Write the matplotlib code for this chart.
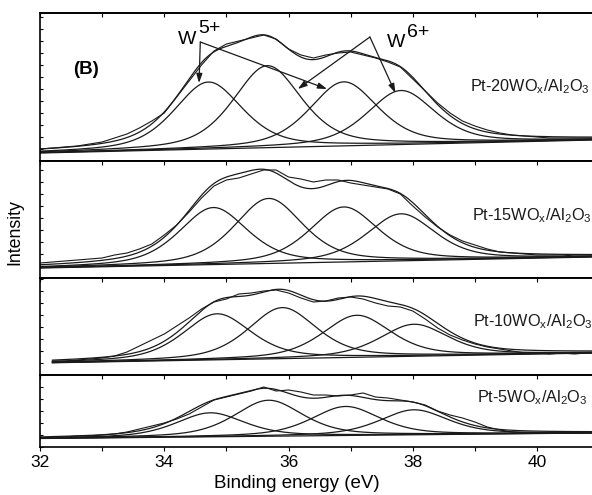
import numpy as np
import matplotlib.pyplot as plt
from matplotlib.ticker import MultipleLocator

plt.rcParams['font.family'] = ['Liberation Sans', 'DejaVu Sans']
plt.rcParams['mathtext.fontset'] = 'custom'
plt.rcParams['mathtext.rm'] = 'Liberation Sans'
plt.rcParams['mathtext.it'] = 'Liberation Sans:italic'
plt.rcParams['mathtext.bf'] = 'Liberation Sans:bold'

# W 4f region, top to bottom
labels = [r'Pt-20WO$_\mathregular{x}$/Al$_\mathregular{2}$O$_\mathregular{3}$',
          r'Pt-15WO$_\mathregular{x}$/Al$_\mathregular{2}$O$_\mathregular{3}$',
          r'Pt-10WO$_\mathregular{x}$/Al$_\mathregular{2}$O$_\mathregular{3}$',
          r'Pt-5WO$_\mathregular{x}$/Al$_\mathregular{2}$O$_\mathregular{3}$']

energy = np.round(np.arange(32.0, 41.01, 0.2), 1)

# measured intensity (a.u.)
counts_20 = [12, 13, 14, 15, 17, 19, 23, 27, 33, 40, 48, 64, 80, 96, 110,
             117, 120, 123, 126, 122, 112, 106, 103, 106, 108, 109, 106, 103, 99, 94,
             82, 70, 58, 48, 40, 35, 31, 28, 26, 25, 24, 23, 23, 23, 23, 23]
counts_15 = [15, 16, 17, 18, 19, 20, 23, 25, 29, 34, 43, 53, 66, 80, 92,
             98, 100, 104, 108, 108, 101, 99, 96, 98, 98, 95, 93, 91, 89, 84,
             72, 61, 51, 43, 37, 33, 29, 26, 25, 24, 23, 23, 23, 22, 22, 22]
# 10 wt% scan starts at 32.2 eV
counts_10 = [14, 14, 15, 16, 17, 19, 23, 29, 35, 41, 49, 57, 66, 73,
             76, 81, 82, 84, 85, 82, 77, 73, 74, 77, 78, 76, 72, 69, 68,
             64, 56, 47, 40, 35, 31, 28, 26, 24, 22, 22, 21, 22, 21, 22, 22]
counts_5 = [9, 9, 10, 11, 11, 12, 13, 15, 18, 21, 24, 28, 33, 40, 47,
            50, 53, 56, 60, 56, 57, 55, 52, 52, 51, 52, 54, 50, 49, 47,
            45, 42, 36, 32, 29, 25, 20, 17, 15, 14, 14, 14, 14, 14, 14, 14]

# fitted peaks: W5+ 4f7/2, W6+ 4f7/2, W5+ 4f5/2, W6+ 4f5/2
centres_20 = [34.71, 35.66, 36.89, 37.81]
heights_20 = [67, 82, 64, 54]
centres_15 = [34.79, 35.68, 36.89, 37.81]
heights_15 = [57, 65, 55, 47]
centres_10 = [34.85, 35.90, 37.10, 38.02]
heights_10 = [46, 51, 42, 32]
centres_5 = [34.74, 35.68, 36.92, 38.02]
heights_5 = [24, 36, 29, 25]

# linear background, values at 32.0 and 40.9 eV
bg_energy = [32.0, 40.9]
bg_20 = [8, 21]
bg_15 = [10, 21]
bg_10 = [12, 22]
bg_5 = [8.5, 14]

panel_top = [148, 117, 97, 72]


def gl_peak(e, centre, height, fwhm=1.3, mix=0.5):
    # Gaussian-Lorentzian sum
    g = np.exp(-4 * np.log(2) * (e - centre) ** 2 / fwhm ** 2)
    l = 1 / (1 + 4 * (e - centre) ** 2 / fwhm ** 2)
    return height * ((1 - mix) * g + mix * l)


ink = '#1a1a1a'
fig = plt.figure(figsize=(5.92, 4.95), dpi=100)
edges = [13, 161, 278, 375, 447]  # pixel rows of panel borders
left = 40 / 592
width = 1.01 - left

spectra = [(energy, counts_20, centres_20, heights_20, bg_20),
           (energy, counts_15, centres_15, heights_15, bg_15),
           (energy[1:], counts_10, centres_10, heights_10, bg_10),
           (energy, counts_5, centres_5, heights_5, bg_5)]

axes = []
for i, (e, y, centres, heights, bg) in enumerate(spectra):
    top = 1 - edges[i] / 495
    bottom = 1 - edges[i + 1] / 495
    ax = fig.add_axes([left, bottom, width, top - bottom])
    axes.append(ax)

    fine = np.linspace(e[0], e[-1], 600)
    base = np.interp(fine, bg_energy, bg)
    total = base.copy()
    ax.plot(fine, base, color=ink, lw=0.9)
    for c, h in zip(centres, heights):
        comp = gl_peak(fine, c, h)
        ax.plot(fine, base + comp, color=ink, lw=0.9)
        total += comp
    ax.plot(fine, total, color=ink, lw=0.9)
    ax.plot(e, y, color=ink, lw=0.8)

    ax.set_xlim(32, 40.98)
    ax.set_ylim(0, panel_top[i])
    ax.xaxis.set_major_locator(MultipleLocator(2))
    ax.xaxis.set_minor_locator(MultipleLocator(1))
    ax.yaxis.set_major_locator(MultipleLocator(12))
    ax.tick_params(axis='y', which='both', direction='in', length=2.5,
                   left=True, right=False, labelleft=False, width=0.8)
    ax.tick_params(axis='x', which='both', direction='out', length=3,
                   top=False, bottom=(i == 3), labelbottom=(i == 3),
                   labelsize=12.5, pad=3, width=0.8)
    sec = ax.secondary_xaxis('top')
    sec.xaxis.set_major_locator(MultipleLocator(1))
    sec.tick_params(axis='x', direction='in', length=3, labeltop=False, width=0.8)
    for s in ax.spines.values():
        s.set_linewidth(1.2)
    sec.spines['top'].set_linewidth(1.2)
    ax.text([38.92, 38.96, 38.97, 39.04][i], [70, 58, 49, 45][i], labels[i],
            fontsize=11.7, va='baseline', color=ink)

ax0 = axes[0]
ax0.text(32.74, 92, '(B)', fontsize=13.5, fontweight='bold', ha='center', va='center')
ax0.text(34.22, 117, 'W', fontsize=14, va='baseline')
ax0.text(34.54, 128, '5+', fontsize=14, va='baseline')
ax0.text(37.59, 114, 'W', fontsize=14, va='baseline')
ax0.text(37.91, 124, '6+', fontsize=14, va='baseline')

arrow = dict(arrowstyle='-|>,head_length=0.55,head_width=0.18', color=ink, lw=0.9,
             shrinkA=0, shrinkB=0)
for tip in [(34.56, 78), (36.62, 72)]:
    ax0.annotate('', xy=tip, xytext=(34.58, 119), arrowprops=arrow)
for tip in [(36.15, 72), (37.72, 68)]:
    ax0.annotate('', xy=tip, xytext=(37.31, 124), arrowprops=arrow)

fig.text(15 / 592, 1 - 232 / 495, 'Intensity', rotation=90, fontsize=12.8,
         ha='center', va='center')
fig.text(297 / 592, 1 - 484 / 495, 'Binding energy (eV)', fontsize=13.5,
         ha='center', va='center')

fig.savefig('out.png', dpi=100)
